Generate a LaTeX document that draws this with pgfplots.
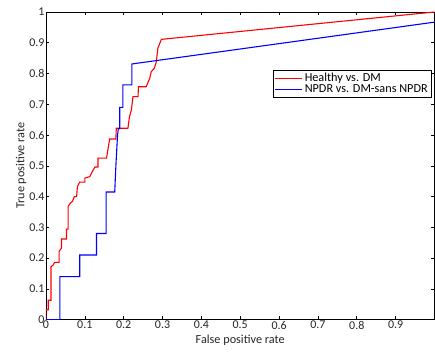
\documentclass[border=0pt]{standalone}
\usepackage{fontspec}
\setmainfont{Carlito}
\usepackage{pgfplots}
\pgfplotsset{compat=1.18}
\begin{document}
\begin{tikzpicture}
\begin{axis}[
  scale only axis,
  width=389bp, height=308bp,
  xmin=0, xmax=1, ymin=0, ymax=1,
  xtick={0,0.1,...,0.9},
  ytick={0,0.1,...,1},
  xticklabels={0,0.1,0.2,0.3,0.4,0.5,0.6,0.7,0.8,0.9},
  yticklabels={0,0.1,0.2,0.3,0.4,0.5,0.6,0.7,0.8,0.9,1},
  tick align=inside,
  major tick length=3.5bp,
  tick style={black, line width=0.6bp},
  axis line style={black, line width=0.7bp},
  tick label style={font=\fontsize{12}{13}\selectfont, text=black!85},
  xticklabel style={yshift=2bp},
  yticklabel style={xshift=2bp},
  xlabel={False positive rate},
  ylabel={True positive rate},
  label style={font=\fontsize{12.3}{14}\selectfont, text=black!85},
  xlabel style={yshift=1bp},
  ylabel style={yshift=-4bp},
  legend style={at={(0.9925,0.812)}, anchor=north east, draw=black, line width=0.7bp,
    font=\fontsize{12.3}{14}\selectfont, inner xsep=1.5bp, inner ysep=1bp, row sep=-2bp,
    cells={anchor=west}},
  legend image code/.code={\draw[#1, line width=0.9bp] (0,0) -- (0.95cm,0);},
]
\addplot[red, line width=1.1bp] coordinates {
(0,0)(0,0.032)(0.006,0.032)(0.006,0.063)(0.013,0.063)(0.013,0.172)(0.019,0.178)(0.022,0.186)
(0.034,0.186)(0.034,0.222)(0.04,0.233)(0.04,0.262)(0.053,0.262)(0.053,0.294)(0.057,0.294)
(0.057,0.368)(0.063,0.379)(0.068,0.384)(0.073,0.40)(0.079,0.40)(0.081,0.433)(0.087,0.447)
(0.1,0.447)(0.1,0.46)(0.113,0.465)(0.117,0.476)(0.126,0.496)(0.134,0.496)(0.134,0.525)
(0.156,0.525)(0.16,0.557)(0.164,0.587)(0.18,0.587)(0.181,0.622)(0.211,0.622)(0.215,0.66)
(0.22,0.682)(0.224,0.725)(0.237,0.725)(0.238,0.757)(0.258,0.757)(0.267,0.784)(0.271,0.806)
(0.279,0.817)(0.284,0.838)(0.288,0.882)(0.297,0.911)(1,1)
};
\addlegendentry{Healthy vs. DM}
\addplot[blue, line width=1.1bp] coordinates {
(0,0)(0.036,0)(0.036,0.14)(0.087,0.14)(0.087,0.21)(0.13,0.21)(0.13,0.28)(0.155,0.28)
(0.155,0.415)(0.177,0.415)(0.18,0.50)(0.184,0.595)(0.186,0.62)(0.19,0.62)(0.19,0.69)
(0.198,0.69)(0.198,0.763)(0.221,0.763)(0.221,0.831)(1,0.967)
};
\addlegendentry{NPDR vs. DM-sans NPDR}
\end{axis}
\pgfresetboundingbox
\useasboundingbox (-46bp,-32bp) rectangle (389.5bp,320bp);
\end{tikzpicture}
\end{document}
